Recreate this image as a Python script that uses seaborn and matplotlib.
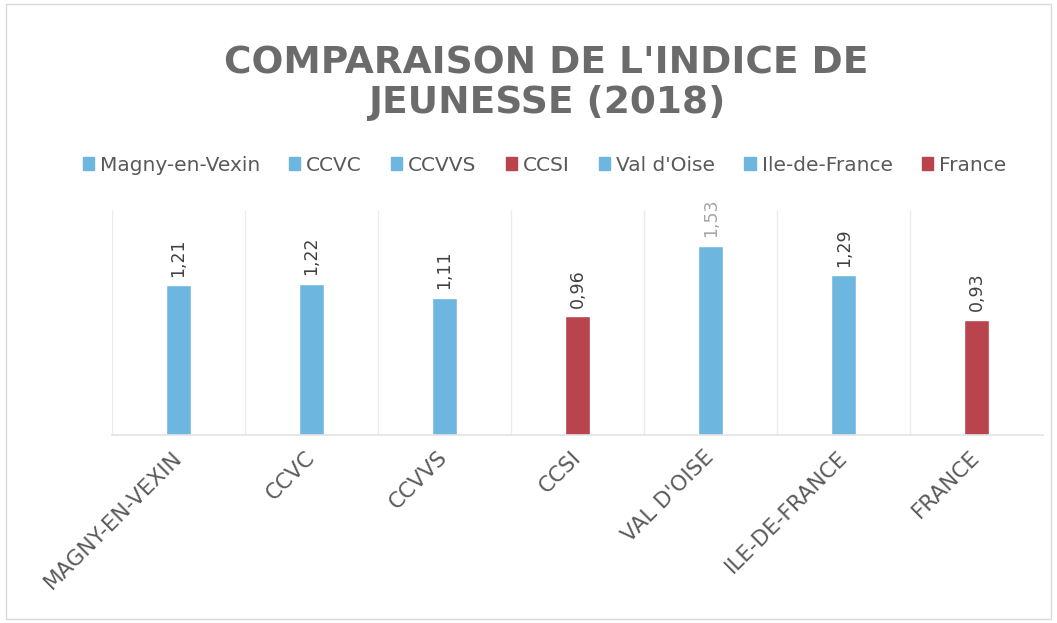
import numpy as np
import pandas as pd
import matplotlib
matplotlib.use("Agg")
import matplotlib.pyplot as plt
import seaborn as sns

# Data
territoires = ["Magny-en-Vexin", "CCVC", "CCVVS", "CCSI", "Val d'Oise", "Ile-de-France", "France"]
indice = [1.21, 1.22, 1.11, 0.96, 1.53, 1.29, 0.93]
couleurs = ["#6cb6e0", "#6cb6e0", "#6cb6e0", "#b9444e", "#6cb6e0", "#6cb6e0", "#b9444e"]
labels_couleurs = ["#404040", "#404040", "#404040", "#404040", "#a6a6a6", "#404040", "#404040"]

df = pd.DataFrame({"territoire": territoires, "indice": indice})

sns.set_theme(style="white")
plt.rcParams["font.family"] = ["DejaVu Sans"]

fig = plt.figure(figsize=(10.57, 6.23), dpi=100)
ax = fig.add_axes([0.106, 0.302, 0.881, 0.361])

sns.barplot(data=df, x="territoire", y="indice", hue="territoire",
            palette=couleurs, dodge=False, width=0.19, legend=False, ax=ax,
            saturation=1)

ax.set_xlim(-0.5, 6.5)
ax.set_ylim(0, 1.82)
ax.set_yticks([])
ax.set_xlabel("")
ax.set_ylabel("")

# vertical separators between categories
ax.set_xticks(np.arange(-0.5, 6.5, 1), minor=True)
ax.grid(which="minor", axis="x", color="#ececec", linewidth=1)
ax.tick_params(which="both", length=0)
for s in ["top", "right", "left"]:
    ax.spines[s].set_visible(False)
ax.spines["bottom"].set_color("#e3e3e3")
ax.spines["bottom"].set_linewidth(1.2)

ax.set_xticks(range(len(territoires)))
ax.set_xticklabels([t.upper() for t in territoires], rotation=45, ha="right", va="center",
                   rotation_mode="anchor", fontsize=15.5, color="#5a5a5a")
ax.tick_params(axis="x", pad=14)

# value labels
for i, v in enumerate(indice):
    ax.text(i, v + 0.07, f"{v:.2f}".replace(".", ","), rotation=90,
            ha="center", va="bottom", fontsize=12.5, color=labels_couleurs[i])

# legend
handles = [plt.Rectangle((0, 0), 1, 1, color=c) for c in couleurs]
fig.legend(handles, territoires, loc="center", bbox_to_anchor=(0.515, 0.735),
           ncol=7, frameon=False, fontsize=14.5, handlelength=0.55, handleheight=0.55,
           handletextpad=0.3, columnspacing=1.45, labelcolor="#595959")

fig.text(0.517, 0.867, "COMPARAISON DE L'INDICE DE\nJEUNESSE (2018)", ha="center",
         va="center", fontsize=27, fontweight="bold", color="#6b6b6b", linespacing=1.12)

# light frame around the chart
fig.patches.append(plt.Rectangle((0.006, 0.006), 0.988, 0.988, transform=fig.transFigure,
                                 fill=False, edgecolor="#d9d9d9", linewidth=1))

fig.savefig("out.png", dpi=100)
